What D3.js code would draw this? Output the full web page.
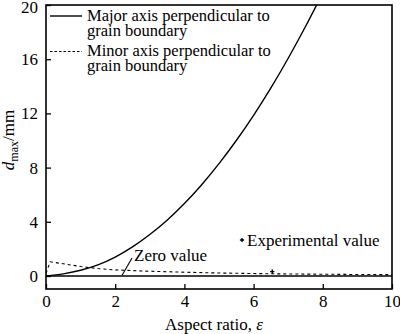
<!DOCTYPE html>
<html><head><meta charset="utf-8">
<script src="https://cdn.jsdelivr.net/npm/d3@7"></script>
<style>body{margin:0;background:#fff}svg{display:block}text{font-family:"Liberation Serif","Times New Roman",serif;fill:#000}</style>
</head><body><svg id="c" width="400" height="334"></svg>
<script>
const xTicks=[0,2,4,6,8,10];
const yTicks=[0,4,8,12,16,20];
const majorX=[0,0.5,1,1.5,2,2.5,3,3.5,4,4.5,5,5.5,6,6.5,7,7.5,7.85];
const majorY=[0,0.16,0.42,0.82,1.4,2.15,3.06,4.12,5.35,6.74,8.29,10.0,11.86,13.88,16.07,18.41,20.14];
const zeroX=[0,10];
const zeroY=[0,0];
const minorX=[0,0.12,0.5,1,1.5,2,3,4,5,6,7,8,9,10];
const minorY=[0.2,1.05,0.9,0.7,0.55,0.45,0.35,0.28,0.22,0.18,0.15,0.13,0.11,0.1];
const expX=[6.54];
const expY=[0.32];
const legendLabels=[["Major axis perpendicular to","grain boundary"],["Minor axis perpendicular to","grain boundary"]];

const svg=d3.select("#c");
const L=46,R=392,T=5,B=289;
const x=d3.scaleLinear().domain([0,10]).range([L,R]);
const y=d3.scaleLinear().domain([-0.96,20]).range([B,T]);
svg.append("clipPath").attr("id","cp").append("rect").attr("x",L).attr("y",T).attr("width",R-L).attr("height",B-T);

const line=d3.line().x(d=>x(d[0])).y(d=>y(d[1])).curve(d3.curveMonotoneX);
const plot=svg.append("g").attr("clip-path","url(#cp)");
plot.append("path").datum(majorX.map((v,i)=>[v,majorY[i]])).attr("d",line).attr("fill","none").attr("stroke","#000").attr("stroke-width",1.4);
plot.append("path").datum(zeroX.map((v,i)=>[v,zeroY[i]])).attr("d",line).attr("fill","none").attr("stroke","#000").attr("stroke-width",1.6);
plot.append("path").datum(minorX.map((v,i)=>[v,minorY[i]])).attr("d",d3.line().x(d=>x(d[0])).y(d=>y(d[1])).curve(d3.curveLinear)).attr("fill","none").attr("stroke","#000").attr("stroke-width",1.1).attr("stroke-dasharray","3,3");

const star=d3.symbol().type(d3.symbolCross).size(10);
plot.selectAll(".exp").data(expX.map((v,i)=>[v,expY[i]])).join("path").attr("d",star).attr("transform",d=>`translate(${x(d[0])},${y(d[1])})`).attr("fill","#000");

const xa=svg.append("g").attr("transform",`translate(0,${B})`).call(d3.axisBottom(x).tickValues(xTicks).tickSize(-5).tickPadding(6).tickFormat(d3.format("d")));
const ya=svg.append("g").attr("transform",`translate(${L},0)`).call(d3.axisLeft(y).tickValues(yTicks).tickSize(-5).tickPadding(8).tickFormat(d3.format("d")));
[xa,ya].forEach(a=>{a.select(".domain").remove();a.selectAll("line").attr("stroke","#000").attr("stroke-width",1.3);a.selectAll("text").attr("font-size",17).attr("font-family",null);});
ya.selectAll("text").filter(d=>d===20).attr("dy","0.42em");
svg.append("rect").attr("x",L).attr("y",T).attr("width",R-L).attr("height",B-T).attr("fill","none").attr("stroke","#000").attr("stroke-width",1.6);

const lg=svg.append("g");
const legY=[16,51.5];
legendLabels.forEach((lab,i)=>{
  lg.append("line").attr("x1",50).attr("x2",82).attr("y1",legY[i]).attr("y2",legY[i]).attr("stroke","#000").attr("stroke-width",i?1.1:1.4).attr("stroke-dasharray",i?"2.5,2":null);
  lab.forEach((t,j)=>lg.append("text").attr("x",87).attr("y",legY[i]+4.7+j*15).attr("font-size",16.5).text(t));
});
lg.append("path").attr("d",star).attr("transform","translate(242,240)").attr("fill","#000");
lg.append("text").attr("x",247).attr("y",246).attr("font-size",17).text("Experimental value");

svg.append("line").attr("x1",x(2.2)).attr("y1",y(0.05)).attr("x2",132).attr("y2",258).attr("stroke","#000").attr("stroke-width",1.1);
svg.append("text").attr("x",134).attr("y",261).attr("font-size",17).text("Zero value");

svg.append("text").attr("x",214).attr("y",330).attr("text-anchor","middle").attr("font-size",17).html('Aspect ratio, <tspan font-style="italic">ε</tspan>');
svg.append("text").attr("transform","translate(14,140) rotate(-90)").attr("text-anchor","middle").attr("font-size",17).html('<tspan font-style="italic">d</tspan><tspan font-size="12" dy="4">max</tspan><tspan dy="-4">/mm</tspan>');
</script></body></html>
